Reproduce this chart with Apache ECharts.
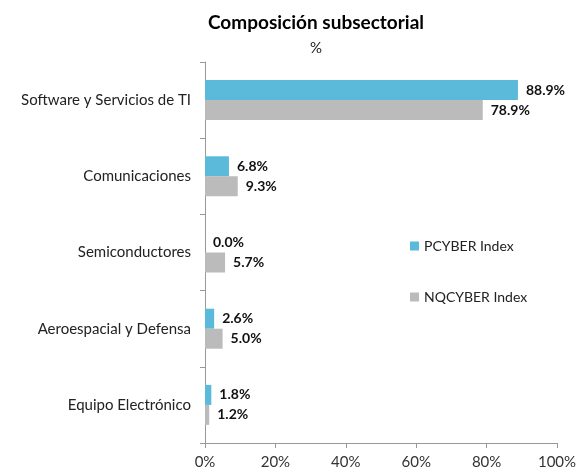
<!DOCTYPE html>
<html>
<head>
<meta charset="utf-8">
<script src="https://cdn.jsdelivr.net/npm/echarts@6/dist/echarts.min.js"></script>
<style>
  html, body { margin: 0; padding: 0; background: #fff; }
  #chart { width: 587px; height: 475px; }
</style>
</head>
<body>
<div id="chart"></div>
<script>
const categories = [
  "Software y Servicios de TI",
  "Comunicaciones",
  "Semiconductores",
  "Aeroespacial y Defensa",
  "Equipo Electrónico"
];
const pcyber = [88.9, 6.8, 0.0, 2.6, 1.8];
const nqcyber = [78.9, 9.3, 5.7, 5.0, 1.2];
const seriesNames = ["PCYBER Index", "NQCYBER Index"];

const chart = echarts.init(document.getElementById("chart"));
const font = "Lato, 'Open Sans', sans-serif";

const labelStyle = {
  show: true,
  position: "right",
  distance: 8,
  color: "#111",
  fontWeight: "bold",
  fontSize: 14,
  fontFamily: font,
  formatter: (p) => p.value.toFixed(1) + "%"
};

chart.setOption({
  animation: false,
  title: {
    text: "Composición subsectorial",
    subtext: "%",
    left: 311,
    textAlign: "center",
    top: 8,
    itemGap: 9,
    textStyle: { fontFamily: font, fontSize: 19, fontWeight: "bold", color: "#000" },
    subtextStyle: { fontFamily: font, fontSize: 15, color: "#222" }
  },
  legend: {
    orient: "vertical",
    left: 405,
    top: 234,
    itemGap: 37,
    itemWidth: 9,
    itemHeight: 9,
    itemStyle: { borderWidth: 0 },
    icon: "rect",
    textStyle: { fontFamily: font, fontSize: 14, color: "#222" },
    data: seriesNames
  },
  grid: { left: 205, right: 30, top: 62, bottom: 32 },
  xAxis: {
    type: "value",
    min: 0,
    max: 100,
    interval: 20,
    splitLine: { show: false },
    axisLine: { show: true, lineStyle: { color: "#999" } },
    axisTick: { show: true, length: 5, lineStyle: { color: "#999" } },
    axisLabel: {
      formatter: "{value}%",
      fontFamily: font,
      fontSize: 15,
      color: "#333",
      margin: 12
    }
  },
  yAxis: {
    type: "category",
    inverse: true,
    data: categories,
    axisLine: { show: true, lineStyle: { color: "#999" } },
    axisTick: { show: true, length: 5, lineStyle: { color: "#999" } },
    axisLabel: { fontFamily: font, fontSize: 15, color: "#222", margin: 14 }
  },
  series: [
    {
      name: seriesNames[0],
      type: "bar",
      data: pcyber,
      barWidth: 20,
      barGap: "0%",
      itemStyle: { color: "#5BB9D9" },
      label: labelStyle
    },
    {
      name: seriesNames[1],
      type: "bar",
      data: nqcyber,
      barWidth: 20,
      itemStyle: { color: "#BBBBBB" },
      label: labelStyle
    }
  ]
});
</script>
</body>
</html>
